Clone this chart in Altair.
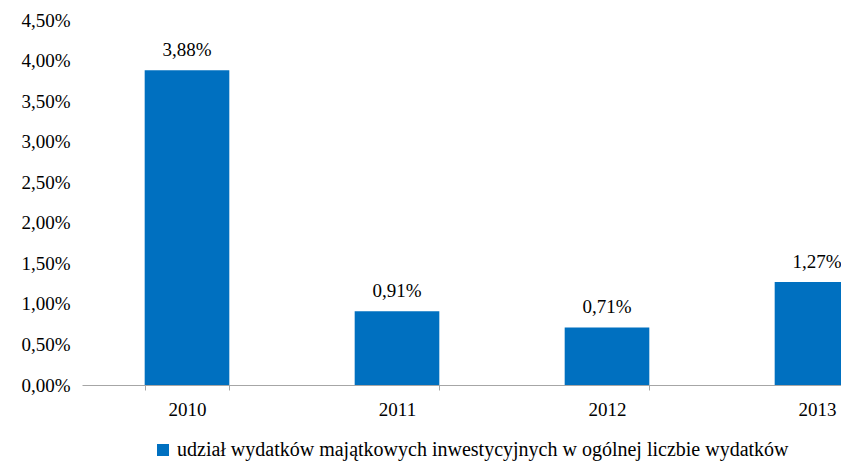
import altair as alt
import pandas as pd

years = ["2010", "2011", "2012", "2013"]
values = [3.88, 0.91, 0.71, 1.27]
series_name = "udział wydatków majątkowych inwestycyjnych w ogólnej liczbie wydatków"
y_ticks = [0, 0.5, 1.0, 1.5, 2.0, 2.5, 3.0, 3.5, 4.0, 4.5]

df = pd.DataFrame({"rok": years, "udzial": values, "seria": [series_name] * len(years)})

FONT = "'Liberation Serif', 'Times New Roman', serif"
FS = 19

x_enc = alt.X(
    "rok:N",
    sort=years,
    scale=alt.Scale(range=[0, 840], paddingInner=0.597, paddingOuter=0.2985),
    axis=alt.Axis(
        title=None,
        labelAngle=0,
        tickBand="extent",
        tickSize=5,
        tickColor="#a6a6a6",
        domainColor="#a6a6a6",
        labelPadding=10,
        labelBaseline="top",
        grid=False,
        labelFont=FONT,
        labelFontSize=FS,
        labelColor="#000000",
    ),
)
y_enc = alt.Y(
    "udzial:Q",
    scale=alt.Scale(domain=[0, 4.5], nice=False),
    axis=alt.Axis(
        title=None,
        values=y_ticks,
        labelExpr="replace(format(datum.value, '.2f'), '.', ',') + '%'",
        domain=False,
        ticks=False,
        grid=False,
        labelPadding=12,
        labelFont=FONT,
        labelFontSize=FS,
        labelColor="#000000",
    ),
)

bars = alt.Chart(df).mark_bar(color="#0070C0").encode(
    x=x_enc,
    y=y_enc,
    color=alt.Color(
        "seria:N",
        scale=alt.Scale(range=["#0070C0"]),
        legend=alt.Legend(
            title=None,
            orient="none",
            legendX=71,
            legendY=420,
            symbolType="square",
            symbolSize=144,
            symbolStrokeWidth=0,
            labelFontSize=20,
            labelFont=FONT,
            labelColor="#000000",
            labelLimit=0,
            labelOffset=4,
        ),
    ),
)

labels = alt.Chart(df).transform_calculate(
    lbl="replace(format(datum.udzial, '.2f'), '.', ',') + '%'"
).mark_text(
    font=FONT, fontSize=FS, color="#000000", baseline="bottom", dy=-10
).encode(x=x_enc, y=y_enc, text="lbl:N")

chart = (
    alt.layer(bars, labels)
    .properties(
        width=759,
        height=365,
        autosize=alt.AutoSizeParams(type="none"),
        padding={"left": 74, "top": 12, "right": 0, "bottom": 76},
    )
    .configure_view(stroke=None)
)

chart.save("out.html", embed_options={"renderer": "svg", "actions": False})
